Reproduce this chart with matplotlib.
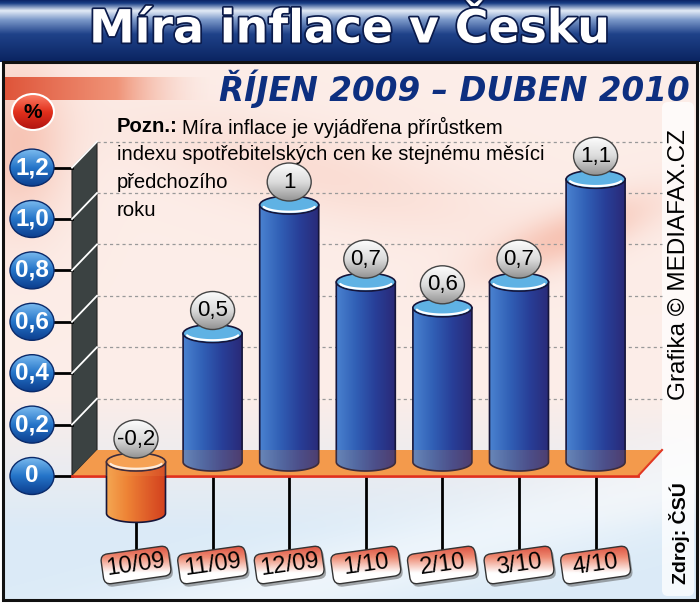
import numpy as np
import matplotlib
matplotlib.use('Agg')
import matplotlib.pyplot as plt
from matplotlib.patches import Polygon, Ellipse, FancyBboxPatch, Rectangle
from matplotlib.colors import LinearSegmentedColormap
from matplotlib.transforms import Affine2D
from matplotlib import font_manager as fm
import matplotlib.patheffects as pe

# data
months = ['10/09', '11/09', '12/09', '1/10', '2/10', '3/10', '4/10']
inflation = [-0.2, 0.5, 1.0, 0.7, 0.6, 0.7, 1.1]
value_labels = ['-0,2', '0,5', '1', '0,7', '0,6', '0,7', '1,1']
ticks = [0, 0.2, 0.4, 0.6, 0.8, 1.0, 1.2]
tick_labels = ['0', '0,2', '0,4', '0,6', '0,8', '1,0', '1,2']

title = 'Míra inflace v Česku'
subtitle = 'ŘÍJEN 2009 – DUBEN 2010'
note_head = 'Pozn.:'
note_lines = ['Míra inflace je vyjádřena přírůstkem',
              'indexu spotřebitelských cen ke stejnému měsíci',
              'předchozího',
              'roku']
credit = 'Grafika © MEDIAFAX.CZ'
source = 'Zdroj: ČSÚ'

names = {f.name for f in fm.fontManager.ttflist}
NARROW = 'Liberation Sans Narrow' in names
NFONT = ['Liberation Sans Narrow', 'Liberation Sans'] if NARROW else ['Liberation Sans']
SFONT = ['Liberation Sans', 'DejaVu Sans']

# pixel geometry of the value scale
PX_X = 76.6
PX_Y = 257.0
X0 = 136
Y0 = 462


def dx(p):
    return p / PX_X


def dy(p):
    return p / PX_Y


TK = dy(14)   # ticks sit in front of the floor
GR = dy(12)   # grid sits at the back wall


def gradient(axis, extent, colors, clip=None, horizontal=False, z=2):
    cmap = LinearSegmentedColormap.from_list('g', colors)
    g = np.linspace(0, 1, 256)
    arr = g[None, :] if horizontal else g[:, None]
    im = axis.imshow(arr, cmap=cmap, extent=extent, aspect='auto', origin='upper',
                     zorder=z, interpolation='bilinear')
    if clip is not None:
        im.set_clip_path(clip)
    return im


fig = plt.figure(figsize=(7, 6.05), dpi=100)
bg = fig.add_axes([0, 0, 1, 1])
bg.set_xlim(0, 700)
bg.set_ylim(605, 0)
bg.axis('off')
ax = fig.add_axes([0, 0, 1, 1])
ax.set_xlim(-X0 / PX_X, (700 - X0) / PX_X)
ax.set_ylim((Y0 - 605) / PX_Y, Y0 / PX_Y)
ax.axis('off')
ax.patch.set_alpha(0)

# background picture
yy, xx = np.meshgrid(np.linspace(0, 1, 270), np.linspace(0, 1, 350), indexing='ij')
pink = np.array([0.99, 0.93, 0.91])
blue = np.array([0.86, 0.92, 0.97])
t = np.clip((yy - 0.62) / 0.25, 0, 1)[..., None]
img = pink * (1 - t) + blue * t
salmon = np.array([0.95, 0.62, 0.52])
m1 = np.exp(-((yy - 0.33 + 0.45 * (xx - 0.8)) / 0.05) ** 2) * np.exp(-((xx - 0.82) / 0.12) ** 2)
m2 = np.exp(-(((xx - 0.02) / 0.07) ** 2 + ((yy - 0.15) / 0.15) ** 2))
m3 = np.exp(-((yy - 0.22 - 0.3 * (xx - 0.5)) / 0.08) ** 2) * np.exp(-((xx - 0.45) / 0.25) ** 2)
m = np.clip(0.5 * m1 + 0.5 * m2 + 0.2 * m3, 0, 1)[..., None]
img = img * (1 - m) + salmon * m
w = np.exp(-((yy - 0.95 + 0.35 * (xx - 0.5)) / 0.08) ** 2)[..., None] * 0.5
img = img * (1 - w) + np.array([1, 1, 1]) * w
bg.imshow(img, extent=(3, 697, 600, 62), aspect='auto', zorder=0, interpolation='bilinear')

# right strip
bg.add_patch(FancyBboxPatch((662, 102), 32, 494, boxstyle='round,pad=0,rounding_size=6',
                            fc='white', ec='none', alpha=0.75, zorder=1))

# title band
band = [(0, '#0b2466'), (0.05, '#1a3f86'), (0.17, '#e4ecf7'), (0.32, '#7b98c9'),
        (0.55, '#1f4289'), (1, '#0a2360')]
gradient(bg, (0, 700, 62, 0), band, z=1)
bg.text(350, 30, title, color='white', fontsize=33, fontweight='bold', family='DejaVu Sans',
        ha='center', va='center', zorder=5,
        path_effects=[pe.withStroke(linewidth=2.5, foreground='#0a1a4a')])
bg.add_patch(Rectangle((3, 62), 694, 538, fill=False, ec='#111111', lw=2.2, zorder=6))

# orange band + subtitle
gradient(bg, (5, 230, 100, 77), ['#df553a', '#f09478', (1, 1, 1, 0)], horizontal=True, z=1)
bg.text(690, 89, subtitle, ha='right', va='center', color='#0d2f80', fontsize=23.5,
        fontweight='bold', style='italic', family='DejaVu Sans', zorder=5)

# percent bubble
pc = Ellipse((33, 112), 42, 36, fc='none', ec='white', lw=1.5, zorder=4)
bg.add_patch(pc)
gradient(bg, (10, 56, 132, 92), ['#ff8a70', '#e2301c', '#a90f0f'], clip=pc, z=3)
bg.text(33, 112, '%', ha='center', va='center', fontsize=15, fontweight='bold',
        family=SFONT, zorder=5)

# wall, floor, grid
wl, wr = dx(72 - X0), dx(97 - X0)
xr_front, xr_back = dx(638 - X0), dx(662 - X0)
ax.add_patch(Polygon([(wl, -TK), (wr, GR), (wr, ticks[-1] + GR), (wl, ticks[-1] - TK)],
                     closed=True, fc='#3b4242', ec='#222', lw=0.8, zorder=2))
for tv in ticks[1:]:
    ax.plot([wl, wr], [tv - TK, tv + GR], color='white', lw=1.3, zorder=2.1)
    ax.plot([wr, xr_back], [tv + GR, tv + GR], color='#999999', lw=0.9,
            ls=(0, (2.5, 2.5)), zorder=1)
floor = [(wl, -TK), (xr_front, -TK), (xr_back, GR), (wr, GR)]
ax.add_patch(Polygon(floor, closed=True, fc='#f39a4c', ec='none', zorder=2))
ax.plot([wl, xr_front], [-TK, -TK], color='#e0301e', lw=2, zorder=2.2)
ax.plot([xr_front, xr_back], [-TK, GR], color='#e0301e', lw=1.5, zorder=2.2)

# y axis buttons
for tv, tl in zip(ticks, tick_labels):
    cy = tv - TK
    ax.plot([dx(54 - X0), wl], [cy, cy], color='black', lw=2, zorder=2)
    e = Ellipse((dx(32 - X0), cy), dx(44), dy(37), fc='none', ec='#0a2a6a', lw=1, zorder=4)
    ax.add_patch(e)
    gradient(ax, (dx(10 - X0), dx(54 - X0), cy - dy(19), cy + dy(19)),
             ['#7cbcf0', '#2474c8', '#0c3c8c'], clip=e, z=3)
    ax.text(dx(32 - X0), cy, tl, ha='center', va='center', color='white', fontsize=17.5,
            fontweight='bold', family=SFONT, zorder=5)

# cylinders
W, H = dx(59), dy(18)
LABEL_V = (Y0 - 565) / PX_Y
rim = np.deg2rad(np.linspace(196, 344, 40))
for i, v in enumerate(inflation):
    top, base = max(v, 0), min(v, 0)
    x0, x1 = i - W / 2, i + W / 2
    th = np.linspace(np.pi, 2 * np.pi, 40)
    pts = [(x0, top)] + list(zip(i + W / 2 * np.cos(th), base + H / 2 * np.sin(th))) + [(x1, top)]
    if v >= 0:
        body = ['#4a82d0', '#3160b6', '#283f98', '#2a2a78']
        topc = '#5fb2e4'
    else:
        body = ['#f4a652', '#ee8436', '#e0602a', '#d2401e']
        topc = '#f7a458'
    z = 3
    outline = Polygon(pts, closed=True, fc='none', ec='#15153a', lw=1.2, zorder=z + 0.2)
    ax.add_patch(outline)
    gradient(ax, (x0, x1, base - H / 2, top), body, clip=outline, horizontal=True, z=z)
    ax.add_patch(Ellipse((i, top), W, H, fc=topc, ec='#15153a', lw=1.2, zorder=z + 0.3))
    ax.plot(i + W / 2 * 0.9 * np.cos(rim), top + H / 2 * 0.75 * np.sin(rim), color='white',
            lw=1.6, zorder=z + 0.4, solid_capstyle='round')
    # stem
    ax.plot([i, i], [base, LABEL_V + dy(14)], color='black', lw=2, zorder=1.5)
    # value bubble
    by = top + dy(23)
    b = Ellipse((i, by), dx(44), dy(38), fc='none', ec='#444444', lw=1, zorder=5.1)
    ax.add_patch(b)
    gradient(ax, (i - dx(23), i + dx(23), by - dy(20), by + dy(20)),
             ['#ffffff', '#dcdcdc', '#8e8e8e'], clip=b, z=5)
    ax.text(i, by, value_labels[i], ha='center', va='center', fontsize=16, family=SFONT,
            zorder=5.2)

# translucent floor over the bar feet
ax.add_patch(Polygon(floor, closed=True, fc='#f39a4c', ec='none', alpha=0.18, zorder=3.5))

# month tags
for i, mth in enumerate(months):
    cx, cy = ax.transData.transform((i, LABEL_V))
    rot = Affine2D().rotate_deg(8)
    sh = FancyBboxPatch((-34, -15), 68, 30, boxstyle='round,pad=0,rounding_size=7',
                        transform=rot + Affine2D().translate(cx + 2, cy - 3),
                        fc='#555555', ec='none', alpha=0.5, zorder=5)
    ax.add_patch(sh)
    box = FancyBboxPatch((-34, -15), 68, 30, boxstyle='round,pad=0,rounding_size=7',
                         transform=rot + Affine2D().translate(cx, cy),
                         fc='none', ec='#333333', lw=1, zorder=5.2)
    ax.add_patch(box)
    gradient(ax, (i - dx(40), i + dx(40), LABEL_V - dy(24), LABEL_V + dy(24)),
             ['#d4382a', '#ee8a72', '#ffffff', '#ffffff'], clip=box, z=5.1)
    ax.text(i, LABEL_V, mth, ha='center', va='center', rotation=8, rotation_mode='anchor',
            fontsize=17, family=SFONT, zorder=5.3)

# note
nsize = 17 if NARROW else 14.6
r = fig.canvas.get_renderer()
head = ax.text(117, 127, note_head, transform=bg.transData, ha='left', va='center',
               fontsize=nsize, fontweight='bold', family=SFONT, zorder=6)
hw = head.get_window_extent(r).width
ax.text(117 + hw + 4, 127, note_lines[0], transform=bg.transData, ha='left', va='center',
        fontsize=nsize, family=NFONT, zorder=6)
for k, line in enumerate(note_lines[1:]):
    ax.text(117, 155 + 28 * k, line, transform=bg.transData, ha='left', va='center',
            fontsize=nsize, family=NFONT, zorder=6)

# side credits
bg.text(679, 265, credit, rotation=90, ha='center', va='center',
        fontsize=20 if NARROW else 17.5, family=NFONT, zorder=5)
bg.text(679, 533, source, rotation=90, ha='center', va='center', fontweight='bold',
        fontsize=15 if NARROW else 14, family=NFONT, zorder=5)

fig.savefig('out.png', dpi=100)
